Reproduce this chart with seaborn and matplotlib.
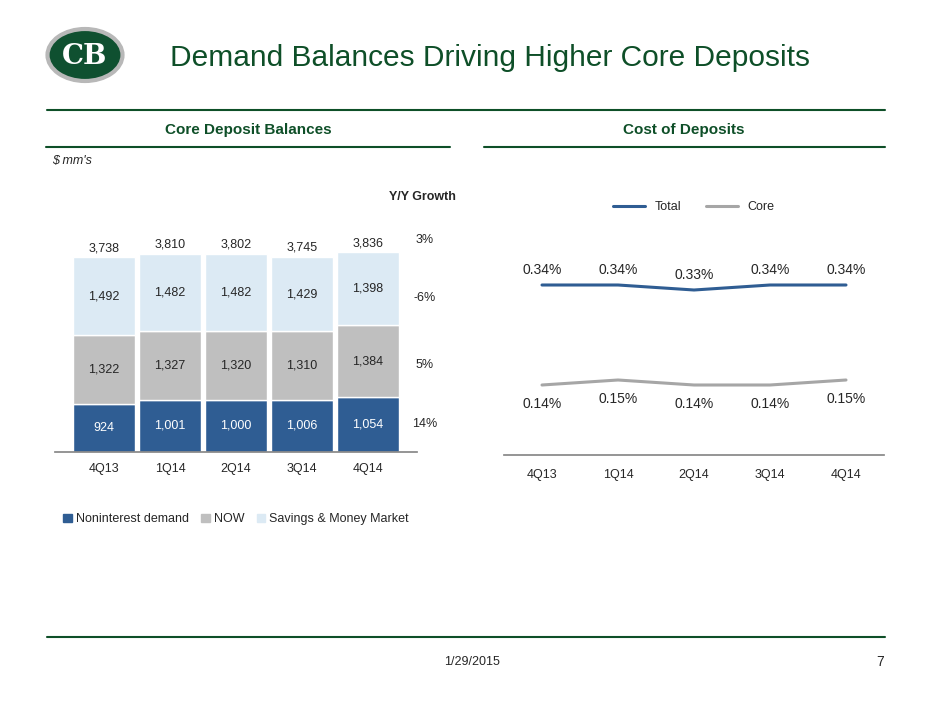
import numpy as np
import pandas as pd
import matplotlib
matplotlib.use("Agg")
import matplotlib.pyplot as plt
import seaborn as sns
from matplotlib.patches import Ellipse, Patch
from matplotlib.lines import Line2D

quarters = ["4Q13", "1Q14", "2Q14", "3Q14", "4Q14"]
demand = [924, 1001, 1000, 1006, 1054]
now = [1322, 1327, 1320, 1310, 1384]
savings = [1492, 1482, 1482, 1429, 1398]
totals = [3738, 3810, 3802, 3745, 3836]
growth = ["3%", "-6%", "5%", "14%"]
cost_total = [0.34, 0.34, 0.33, 0.34, 0.34]
cost_core = [0.14, 0.15, 0.14, 0.14, 0.15]

sns.set_theme(style="white")
plt.rcParams['font.family'] = ['Liberation Sans', 'DejaVu Sans']

W, H = 940, 705
fig = plt.figure(figsize=(9.4, 7.05), dpi=100)
green = "#0E4F28"
c_dem, c_now, c_sav = "#2F5D93", "#BFBFBF", "#DCEAF4"

def fx(x): return x / W
def fy(y): return 1 - y / H

# header
fig.text(fx(170), fy(58), "Demand Balances Driving Higher Core Deposits",
         color=green, fontsize=21.5, va="center", ha="left")
fig.add_artist(Ellipse((fx(85), fy(55)), fx(75), 52 / H, facecolor="#0F5030",
                       edgecolor="#B8B8B8", lw=3, transform=fig.transFigure))
fig.text(fx(85), fy(56), "CB", color="white", fontsize=20, fontweight="bold",
         ha="center", va="center", family="DejaVu Serif")
for (x0, x1, y) in [(47, 885, 110), (46, 450, 147), (484, 885, 147), (47, 885, 637)]:
    fig.add_artist(Line2D([fx(x0), fx(x1)], [fy(y), fy(y)], color=green, lw=1.5,
                          transform=fig.transFigure))
fig.text(fx(248), fy(130), "Core Deposit Balances", color=green, fontsize=11,
         fontweight="bold", ha="center", va="center")
fig.text(fx(684), fy(130), "Cost of Deposits", color=green, fontsize=11,
         fontweight="bold", ha="center", va="center")
fig.text(fx(52), fy(161), "$ mm's", fontsize=9, style="italic", va="center")
fig.text(fx(422), fy(197), "Y/Y Growth", fontsize=9, fontweight="bold", ha="center", va="center")
for g, y in zip(growth, [240, 298, 365, 424]):
    fig.text(fx(425), fy(y), g, fontsize=9, ha="center", va="center")
fig.text(fx(472), fy(662), "1/29/2015", fontsize=9, ha="center", va="center")
fig.text(fx(880), fy(662), "7", fontsize=10, ha="center", va="center")

# left stacked bars
ax = fig.add_axes([fx(54.5), fy(452), fx(363), 250 / H])
df = pd.DataFrame({"q": quarters, "d": demand, "n": now, "s": savings})
x = np.arange(len(quarters))
ax.bar(x, df["d"], width=0.95, color=c_dem)
ax.bar(x, df["n"], bottom=df["d"], width=0.95, color=c_now)
ax.bar(x, df["s"], bottom=df["d"] + df["n"], width=0.95, color=c_sav)
for i in range(len(quarters)):
    ax.text(i, demand[i] / 2, f"{demand[i]:,}", ha="center", va="center", color="white", fontsize=9)
    ax.text(i, demand[i] + now[i] / 2, f"{now[i]:,}", ha="center", va="center", fontsize=9)
    ax.text(i, demand[i] + now[i] + savings[i] / 2, f"{savings[i]:,}", ha="center", va="center", fontsize=9)
    ax.text(i, totals[i] + 60, f"{totals[i]:,}", ha="center", va="bottom", fontsize=9)
ax.set_xlim(-0.75, 4.75)
ax.set_ylim(0, 4800)
ax.set_xticks(x, quarters, fontsize=9)
ax.set_yticks([])
sns.despine(ax=ax, left=True)
ax.spines["bottom"].set_color("#888888")
ax.tick_params(axis="x", length=0, pad=8)
ax.legend(handles=[Patch(color=c_dem, label="Noninterest demand"),
                   Patch(color=c_now, label="NOW"),
                   Patch(color=c_sav, label="Savings & Money Market")],
          loc="upper center", bbox_to_anchor=(0.5, -0.2), ncol=3, frameon=False,
          fontsize=9, handlelength=0.7, handleheight=0.7, columnspacing=1.0, handletextpad=0.3)

# right lines
ax2 = fig.add_axes([fx(504), fy(455), fx(380), 250 / H])
ld = pd.DataFrame({"q": quarters * 2, "v": cost_total + cost_core,
                   "s": ["Total"] * 5 + ["Core"] * 5})
sns.lineplot(data=ld, x="q", y="v", hue="s", palette=["#2F5D93", "#A6A6A6"],
             ax=ax2, linewidth=2.2, sort=False)
for i in range(5):
    ax2.text(i, cost_total[i] + 0.03, f"{cost_total[i]:.2f}%", ha="center", va="center", fontsize=10)
    ax2.text(i, cost_core[i] - 0.037, f"{cost_core[i]:.2f}%", ha="center", va="center", fontsize=10)
ax2.set_xlim(-0.5, 4.5)
ax2.set_ylim(0, 0.5)
ax2.set_yticks([])
ax2.set_xlabel("")
ax2.set_ylabel("")
ax2.tick_params(axis="x", length=0, pad=10, labelsize=9)
sns.despine(ax=ax2, left=True)
ax2.spines["bottom"].set_color("#888888")
ax2.legend(loc="upper center", bbox_to_anchor=(0.5, 1.06), ncol=2, frameon=False,
           fontsize=9, handlelength=2.5, title=None)

fig.savefig("out.png", dpi=100)
